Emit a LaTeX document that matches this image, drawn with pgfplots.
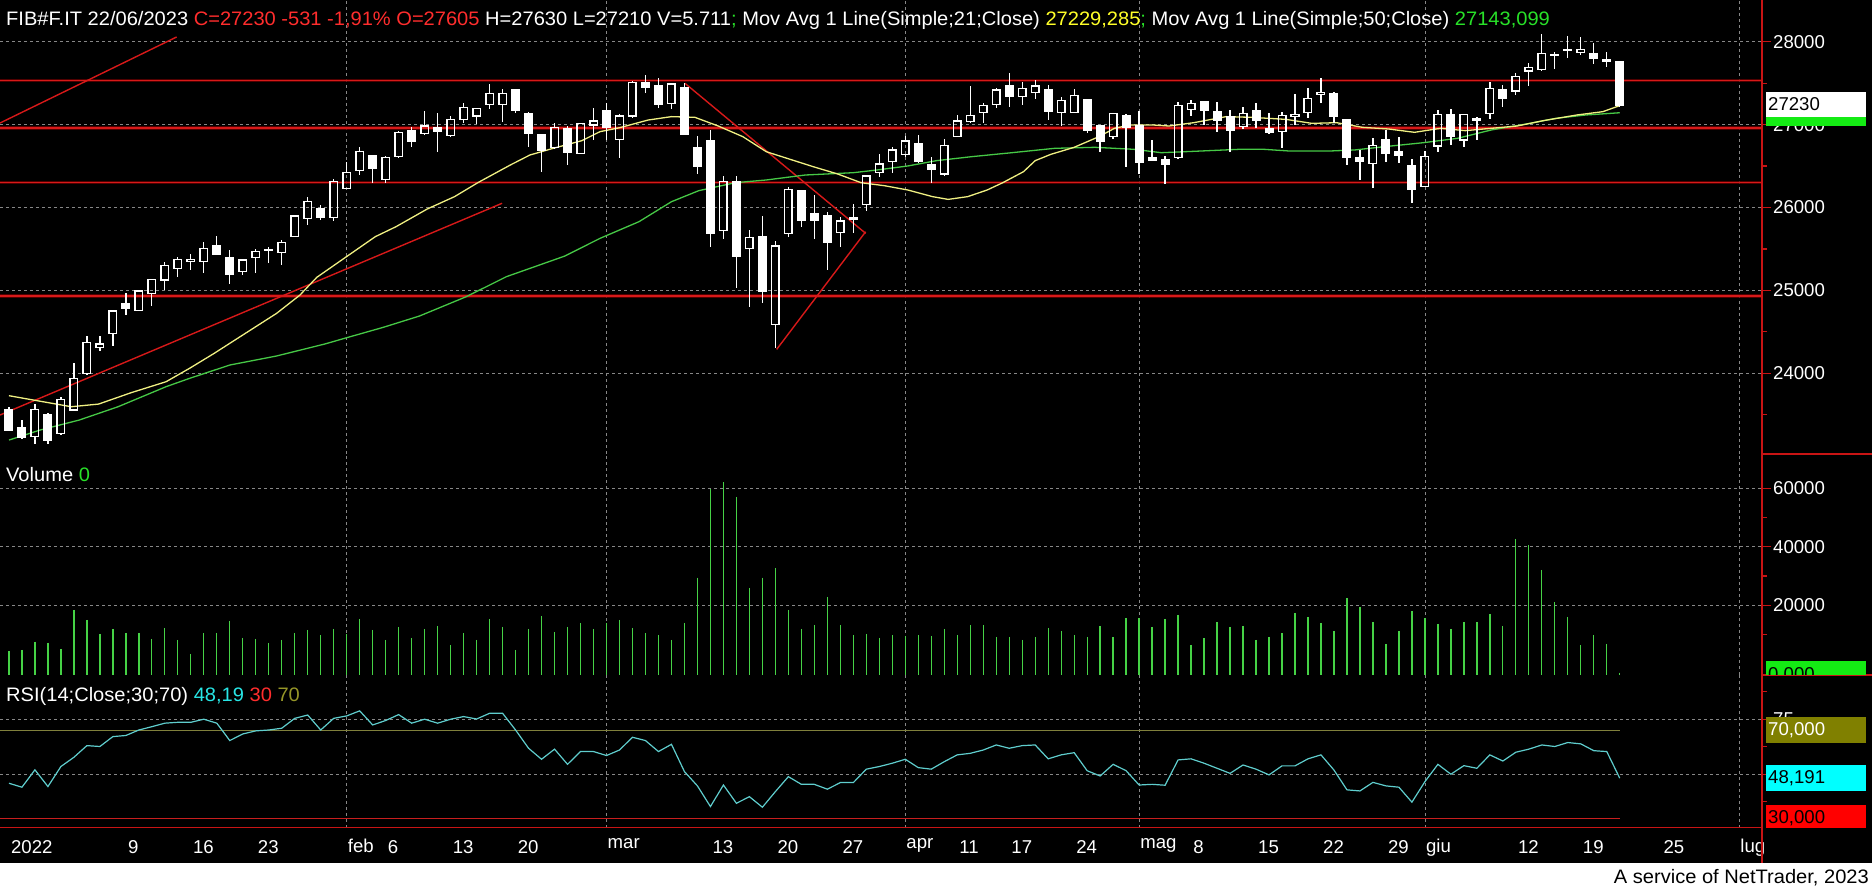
\documentclass[border=0pt]{standalone}
\usepackage{pgfplots}
\pgfplotsset{compat=1.18}
\usepackage{pgfplotstable}
\usepackage{fontspec}
\setmainfont{Liberation Sans}
\newfontfamily\hdrfont[FakeStretch=1.03]{Liberation Sans}
\newcommand\lbl{\fontsize{18.6}{21}\selectfont}
\newcommand\hdr{\hdrfont\fontsize{19.5}{22}\selectfont}
\definecolor{axred}{RGB}{200,20,20}
\definecolor{supred}{RGB}{215,25,25}
\definecolor{supglow}{RGB}{100,0,0}
\definecolor{gridgray}{RGB}{135,135,135}
\definecolor{vgreen}{RGB}{70,210,70}
\definecolor{maY}{RGB}{240,240,130}
\definecolor{maG}{RGB}{70,200,70}
\definecolor{rsicol}{RGB}{95,205,205}
\definecolor{olivel}{RGB}{128,128,60}
\definecolor{red30}{RGB}{200,30,30}
\definecolor{hred}{RGB}{255,45,45}
\definecolor{hyel}{RGB}{255,255,40}
\definecolor{hgreen}{RGB}{40,225,40}
\definecolor{hcyan}{RGB}{40,230,230}
\definecolor{holive}{RGB}{150,150,40}
\definecolor{boxgreen}{RGB}{20,235,20}
\definecolor{boxolive}{RGB}{128,128,0}
\definecolor{boxcyan}{RGB}{0,255,255}
\definecolor{boxred}{RGB}{255,0,0}

% rising candles (close above open): drawn hollow
\pgfplotstableread{
i O H L C
2 23235 23629 23147 23565
4 23276 23718 23268 23686
5 23557 24128 23549 23939
6 23999 24450 23987 24374
7 24313 24450 24273 24353
8 24482 24763 24333 24751
10 24756 24993 24756 24993
11 24965 25134 24816 25134
12 25125 25342 25005 25302
13 25262 25399 25166 25375
14 25346 25435 25246 25375
15 25346 25588 25214 25507
18 25226 25367 25186 25367
19 25399 25503 25214 25471
21 25459 25608 25306 25580
22 25648 25897 25648 25897
23 25869 26123 25789 26070
25 25881 26340 25837 26316
26 26231 26545 26231 26424
27 26444 26726 26392 26673
29 26340 26621 26291 26605
30 26613 26927 26605 26907
32 26895 27168 26875 26983
34 26866 27104 26854 27063
35 27063 27265 27023 27208
36 27104 27196 27007 27196
37 27244 27490 27184 27377
38 27244 27425 27035 27377
42 26722 27015 26714 26967
44 26653 27015 26653 27015
45 26995 27204 26814 27043
47 26822 27128 26593 27104
48 27104 27530 27076 27510
51 27256 27506 27184 27490
55 25721 26380 25616 26312
57 25507 25728 24796 25636
59 24591 25596 24301 25536
60 25688 26251 25640 26219
64 25696 25881 25527 25837
66 26038 26392 25962 26380
67 26420 26645 26372 26525
68 26553 26726 26420 26693
69 26641 26863 26613 26802
72 26404 26830 26392 26750
73 26854 27116 26854 27043
74 27035 27466 27023 27112
75 27144 27265 27023 27232
76 27244 27446 27204 27417
78 27337 27518 27236 27433
79 27385 27538 27309 27466
81 27144 27329 26983 27289
82 27144 27425 27144 27349
85 26854 27144 26822 27136
90 26605 27277 26593 27228
91 27184 27297 27104 27256
95 26975 27216 26955 27136
98 26915 27156 26714 27108
99 27096 27365 26995 27124
100 27144 27437 27084 27317
101 27365 27558 27256 27389
105 26533 26834 26231 26746
109 26251 26686 26251 26613
110 26742 27176 26673 27124
112 26814 27124 26726 27124
113 27055 27096 26814 27075
114 27136 27518 27063 27437
116 27405 27618 27357 27578
117 27647 27747 27470 27687
118 27667 28093 27651 27860
119 27832 27880 27667 27840
120 27892 28069 27799 27908
121 27872 28053 27840 27908
}\upc

% falling candles (close at or below open): drawn filled
\pgfplotstableread{
i O H L C
0 23557 23597 23308 23316
1 23348 23436 23207 23227
3 23497 23525 23147 23195
9 24836 24965 24703 24780
16 25536 25656 25435 25435
17 25399 25487 25077 25190
20 25495 25527 25334 25491
24 25982 26030 25849 25877
28 26621 26633 26291 26468
31 26923 26975 26726 26794
33 26967 27144 26673 26915
39 27417 27425 27136 27168
40 27136 27156 26734 26895
41 26883 26883 26432 26686
43 26955 26983 26512 26661
46 27164 27265 26814 26963
49 27506 27602 27377 27446
50 27466 27562 27204 27240
52 27450 27498 26875 26887
53 26726 26863 26404 26493
54 26802 26935 25519 25688
56 26312 26380 25025 25407
58 25648 25897 24852 24985
61 26199 26199 25769 25841
62 25922 26151 25620 25841
63 25897 25950 25246 25576
65 25881 26042 25696 25857
70 26766 26875 26541 26553
71 26513 26613 26299 26464
77 27474 27618 27216 27337
80 27417 27474 27055 27156
83 27297 27305 26903 26927
84 26983 26983 26673 26794
86 27112 27128 26484 26967
87 26983 27168 26404 26541
88 26605 26814 26565 26565
89 26581 26621 26283 26525
92 27272 27281 26995 27168
93 27156 27277 26915 27047
94 27096 27176 26673 26927
96 27164 27265 26955 27055
97 26955 27144 26887 26907
102 27377 27397 27015 27096
103 27063 27063 26513 26605
104 26605 26694 26332 26553
106 26822 26935 26553 26653
107 26673 26846 26541 26625
108 26505 26581 26050 26219
111 27116 27184 26754 26862
115 27425 27478 27216 27317
122 27860 27980 27731 27799
123 27779 27880 27699 27767
124 27761 27761 27210 27230
}\dnc

% volume and RSI
\pgfplotstableread{
i V R
0 4373 45.9
1 4714 44.1
2 7565 52.0
3 7222 44.4
4 5057 53.5
5 18391 57.7
6 14972 63.0
7 10186 62.6
8 11895 67.1
9 10528 67.6
10 10528 70.1
11 8476 71.6
12 12237 73.2
13 8134 73.6
14 3347 73.6
15 10528 75.0
16 10528 73.2
17 14631 65.3
18 8818 68.3
19 8476 69.7
20 7108 70.1
21 8134 70.9
22 10528 75.4
23 11553 76.9
24 9843 70.1
25 11895 75.4
26 10186 76.5
27 15314 78.8
28 11553 72.4
29 8134 74.4
30 12578 77.1
31 8818 73.2
32 11895 75.0
33 12920 73.2
34 6424 75.0
35 10528 76.2
36 8134 75.1
37 15314 77.7
38 12578 77.7
39 4714 70.1
40 11895 61.8
41 16339 56.8
42 10870 61.4
43 12578 54.5
44 13946 60.3
45 11895 60.3
46 13946 58.5
47 14972 61.0
48 12237 66.8
49 10528 65.3
50 9843 60.3
51 8134 63.6
52 13946 51.2
53 29445 44.7
54 59761 35.3
55 62041 45.1
56 57026 36.8
57 25912 39.8
58 29445 35.0
59 32750 42.1
60 18391 48.9
61 11895 45.4
62 13263 45.4
63 22836 43.2
64 13263 46.2
65 9843 46.2
66 10186 52.3
67 8818 53.5
68 9843 55.0
69 9501 56.8
70 9843 53.0
71 9501 52.3
72 11895 55.7
73 9843 58.8
74 13263 59.5
75 13263 61.0
76 9160 63.3
77 9160 61.8
78 8134 63.0
79 9160 63.3
80 12237 57.0
81 11211 58.8
82 9843 59.8
83 9160 51.6
84 12920 49.2
85 9160 54.5
86 15656 51.6
87 15656 45.1
88 12578 45.4
89 15314 45.0
90 16681 56.5
91 6424 57.0
92 8818 55.0
93 14289 52.7
94 12578 50.4
95 12920 54.2
96 8134 52.3
97 9160 49.7
98 10528 53.8
99 17365 53.8
100 15997 57.0
101 13946 58.8
102 11211 51.9
103 22494 42.9
104 19417 42.4
105 14289 46.3
106 6765 44.7
107 11211 44.1
108 18049 37.3
109 15656 46.6
110 13604 54.5
111 11895 50.0
112 14289 53.9
113 14289 52.7
114 17023 58.8
115 12920 56.0
116 42668 60.0
117 40616 61.4
118 32069 63.3
119 21126 62.6
120 15997 64.4
121 6424 63.8
122 9843 60.7
123 6765 60.3
124 -3000 48.19
}\vr

\pgfplotsset{
  chart/.style={scale only axis, width=1762pt, xmin=-0.689, xmax=134.95,
    axis x line*=bottom, axis y line*=right,
    x axis line style={draw=none},
    y axis line style={draw=axred, line width=1.2pt},
    tick align=outside,
    major tick length=9pt, minor tick length=5pt,
    tick style={axred, line width=1.2pt},
    xtick={26,46,69,87,109,133.2}, xticklabels={},
    xtick style={draw=none},
    xmajorgrids, ymajorgrids,
    grid style={gridgray, line width=0.8pt, dash pattern=on 3pt off 3pt},
    scaled y ticks=false, scaled x ticks=false,
    yticklabel style={font=\lbl, text=white, anchor=west, inner sep=0pt, xshift=2pt},
    /pgf/number format/assume math mode=true,
    /pgf/number format/1000 sep={},
  },
  supline/.style={supglow, line width=3.2pt, opacity=0.8},
  supcore/.style={supred, line width=1.4pt},
  ebar/.style={draw=none, mark=none, error bars/.cd, y dir=both, y explicit, error mark=none,
     error bar style={draw=white, line width=#1}},
  hbar/.style={draw=none, mark=none, error bars/.cd, x dir=both, x fixed=0.346, error mark=none,
     error bar style={draw=white, line width=1.5pt}},
}

\begin{document}
\begin{tikzpicture}[x=1pt,y=1pt]
\useasboundingbox (0pt,0pt) rectangle (1872pt,888pt);
\fill[black] (0pt,25pt) rectangle (1872pt,888pt);
\fill[white] (0pt,0pt) rectangle (1872pt,25pt);

% ---------------- price panel
\begin{axis}[chart, at={(0pt,434pt)}, anchor=south west, height=454pt,
  ymin=23027, ymax=28503,
  ytick={24000,25000,26000,27000,28000},
  minor ytick={23500,24500,25500,26500,27500}]
\foreach \v in {27534,26959,26304,24933}{
  \edef\tmp{\noexpand\addplot[supline] coordinates {(-0.689,\v) (134.95,\v)};
            \noexpand\addplot[supcore] coordinates {(-0.689,\v) (134.95,\v)};}
  \tmp}
\addplot[supcore] coordinates {(-0.689,27019) (12.91,28057)};
\addplot[supcore] coordinates {(-0.689,23497) (37.96,26051)};
\addplot[supcore] coordinates {(52.04,27498) (65.95,25688)};
\addplot[supcore] coordinates {(59.1,24289) (65.95,25708)};
% moving averages
\addplot[maG, line width=1.3pt] coordinates {
(0,23195) (2.4,23316) (5.4,23436) (8.4,23597) (12.1,23839) (13.9,23939) (17.0,24100)
(20.6,24209) (24.3,24353) (26.1,24434) (28.8,24554) (31.6,24691) (35.2,24924) (38.3,25166)
(42.8,25415) (45.5,25628) (48.5,25829) (51.0,26070) (53.1,26203) (55.9,26299) (58.3,26332)
(61.3,26392) (65.0,26420) (66.8,26452) (69.2,26501) (71.4,26565) (74.1,26613) (77.2,26661)
(80.5,26714) (83.6,26726) (86.6,26702) (88.7,26661) (91.7,26681) (94.7,26702) (96.6,26702)
(98.6,26681) (101.6,26681) (103.6,26694) (105.9,26734) (108.9,26782) (111.5,26834)
(114.1,26935) (116.8,27007) (119.1,27076) (121.4,27116) (124,27143)};
\addplot[maY, line width=1.3pt] coordinates {
(0,23730) (4.8,23597) (6.9,23629) (9.4,23766) (12.1,23899) (13.9,24060) (15.8,24241)
(17.6,24422) (20.6,24723) (22.4,24944) (23.7,25158) (25.8,25387) (28.2,25648) (29.8,25769)
(32.2,25982) (34.3,26131) (36.1,26300) (38.6,26513) (40.1,26633) (41.9,26714) (44.1,26806)
(45.5,26915) (47.0,26962) (49.2,27055) (51.0,27096) (52.8,27088) (54.6,26983) (56.5,26854)
(58.3,26673) (59.5,26613) (61.9,26493) (63.8,26404) (65.6,26299) (67.4,26263) (69.2,26211)
(71.1,26131) (72.3,26098) (73.8,26131) (75.3,26211) (76.5,26299) (78.1,26432) (79.0,26565)
(80.2,26641) (82.0,26726) (83.9,26854) (85.1,26955) (86.3,26995) (88.1,26995) (89.3,26983)
(91.2,27023) (93.7,27096) (95.6,27088) (98.3,27063) (100.3,27015) (102.2,27023)
(104.2,26967) (106.2,26947) (108.2,26907) (110.2,26955) (112.1,26927) (114.1,26955)
(116.1,26983) (118.1,27047) (120.7,27116) (122.7,27156) (124,27229)};
% falling candles: wick, filled body, edge caps
\addplot[ebar=1.3pt] table[x=i, y expr={(\thisrow{H}+\thisrow{L})/2}, y error expr={(\thisrow{H}-\thisrow{L})/2}] \dnc;
\addplot[ebar=9pt] table[x=i, y expr={(\thisrow{O}+\thisrow{C})/2}, y error expr={(\thisrow{O}-\thisrow{C})/2}] \dnc;
\addplot[hbar] table[x=i, y=O] \dnc;
\addplot[hbar] table[x=i, y=C] \dnc;
% rising candles: upper and lower wick, hollow outline
\addplot[ebar=1.3pt] table[x=i, y expr={(\thisrow{H}+\thisrow{C})/2}, y error expr={(\thisrow{H}-\thisrow{C})/2}] \upc;
\addplot[ebar=1.3pt] table[x=i, y expr={(\thisrow{O}+\thisrow{L})/2}, y error expr={(\thisrow{O}-\thisrow{L})/2}] \upc;
\addplot[ebar=1.5pt] table[x expr={\thisrow{i}-0.289}, y expr={(\thisrow{O}+\thisrow{C})/2}, y error expr={(\thisrow{C}-\thisrow{O})/2}] \upc;
\addplot[ebar=1.5pt] table[x expr={\thisrow{i}+0.289}, y expr={(\thisrow{O}+\thisrow{C})/2}, y error expr={(\thisrow{C}-\thisrow{O})/2}] \upc;
\addplot[hbar] table[x=i, y=O] \upc;
\addplot[hbar] table[x=i, y=C] \upc;
\end{axis}

% ---------------- volume panel
\begin{axis}[chart, at={(0pt,213pt)}, anchor=south west, height=221pt,
  ymin=-3830, ymax=71726,
  ytick={20000,40000,60000}, minor ytick={10000,30000,50000}]
\addplot[draw=none, mark=none, error bars/.cd, y dir=minus, y fixed=200000, error mark=none,
  error bar style={draw=vgreen, line width=1.3pt}]
  table[x=i, y=V] \vr;
\end{axis}

% ---------------- RSI panel
\begin{axis}[chart, at={(0pt,60.3pt)}, anchor=south west, height=152.7pt,
  ymin=25.7, ymax=95.1,
  x axis line style={draw=axred, line width=1.2pt},
  xtick style={axred, line width=1.2pt},
  ytick={50,75}, minor ytick={37.5,62.5,87.5},
  xticklabels={feb,mar,apr,mag,giu,lug},
  xticklabel style={font=\lbl, text=white, anchor=north west, inner sep=0pt, xshift=1pt, yshift=-2pt},
  extra x ticks={0,9,14,19,29,34,39,54,59,64,73,77,82,91,96,101,106,116,121,127.2},
  extra x tick labels={2022,9,16,23,6,13,20,13,20,27,11,17,24,8,15,22,29,12,19,25},
  extra x tick style={grid=none, major tick length=5pt,
     xticklabel style={font=\lbl, text=white, anchor=north west, inner sep=0pt, xshift=1pt, yshift=-6pt}}]
\addplot[olivel, line width=1.2pt] coordinates {(-0.689,70) (124,70)};
\addplot[red30, line width=1.2pt] coordinates {(-0.689,30) (124,30)};
\addplot[rsicol, line width=1.2pt] table[x=i, y=R] \vr;
\end{axis}

% ---------------- frame pieces and labels
\draw[axred, line width=1.2pt] (1762pt,25pt) -- (1762pt,888pt);
\draw[axred, line width=1.2pt] (1762pt,434pt) -- (1872pt,434pt);
\draw[axred, line width=1.2pt] (1762pt,213pt) -- (1872pt,213pt);

\node[anchor=base west, inner sep=0pt, font=\hdr, text=white] at (6pt,862pt)
 {FIB\#F.IT 22/06/2023 \textcolor{hred}{C=27230 -531 -1,91\% O=27605} H=27630 L=27210 V=5.711\textcolor{hgreen}{;} Mov Avg 1 Line(Simple;21;Close) \textcolor{hyel}{27229,285}\textcolor{hgreen}{;} Mov Avg 1 Line(Simple;50;Close) \textcolor{hgreen}{27143,099}};
\node[anchor=base west, inner sep=0pt, font=\hdr, text=white] at (6pt,406.3pt)
 {Volume \textcolor{hgreen}{0}};
\node[anchor=base west, inner sep=0pt, font=\hdr, text=white] at (6pt,186pt)
 {RSI(14;Close;30;70) \textcolor{hcyan}{48,19} \textcolor{hred}{30} \textcolor{holive}{70}};

% price value boxes
\fill[boxgreen] (1766pt,762.4pt) rectangle (1866pt,788pt);
\fill[white] (1766pt,770.7pt) rectangle (1866pt,796.3pt);
\node[anchor=west, inner sep=0pt, font=\lbl, text=black] at (1768pt,783.5pt) {27230};
% volume box (clipped)
\begin{scope}
\clip (1763pt,213.6pt) rectangle (1872pt,240pt);
\fill[boxgreen] (1766pt,201pt) rectangle (1866pt,227pt);
\node[anchor=base west, inner sep=0pt, font=\lbl, text=black] at (1768pt,207.7pt) {0,000};
\end{scope}
% RSI boxes
\fill[boxolive] (1766pt,145.3pt) rectangle (1866pt,170.7pt);
\node[anchor=west, inner sep=0pt, font=\lbl, text=white] at (1768pt,158pt) {70,000};
\fill[boxcyan] (1766pt,97.3pt) rectangle (1866pt,123pt);
\node[anchor=west, inner sep=0pt, font=\lbl, text=black] at (1768pt,110.2pt) {48,191};
\begin{scope}
\clip (1763pt,60.9pt) rectangle (1872pt,100pt);
\fill[boxred] (1766pt,57.4pt) rectangle (1866pt,83pt);
\node[anchor=west, inner sep=0pt, font=\lbl, text=black] at (1768pt,70.2pt) {30,000};
\end{scope}

\node[anchor=base east, inner sep=0pt, font=\hdr, text=black] at (1869pt,4pt)
 {A service of NetTrader, 2023};
\end{tikzpicture}
\end{document}
